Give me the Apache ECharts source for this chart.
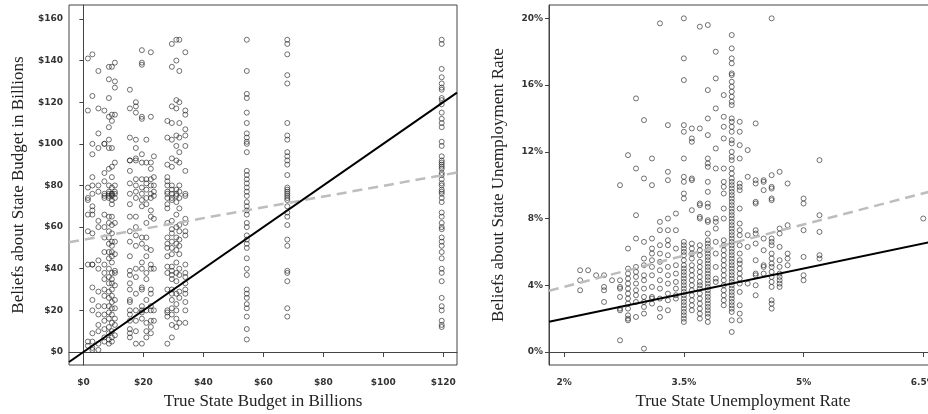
<!DOCTYPE html>
<html>
<head>
<meta charset="utf-8">
<script src="https://cdn.jsdelivr.net/npm/echarts@6/dist/echarts.min.js"></script>
<style>
html, body { margin: 0; padding: 0; background: #fff; overflow: hidden; }
#chart { width: 928px; height: 414px; }
</style>
</head>
<body>
<div id="chart"></div>
<script>
// left panel: true budget (x) and the beliefs given at each true value
const budgetX = [1.5, 3, 5, 7, 8.5, 9.5, 10.5, 15.5, 17.5, 19.5, 21, 22.5, 23.5, 28, 29.5, 31, 32, 34, 54.5, 68, 119.5]
const budgetBeliefs = [
    [141, 116, 79, 74, 73, 66, 58, 42, 5, 3],
    [143, 123, 95, 100, 84, 80, 76, 70, 68, 66, 57, 42, 42, 31, 25, 20, 9, 5, 2, 1],
    [135, 117, 105, 98, 80, 77, 63, 60, 44, 40, 29, 22, 18, 13, 10, 4, 1],
    [116, 100, 100, 86, 82, 76, 75, 74, 66, 60, 55, 48, 42, 38, 35, 30, 27, 22, 18, 15, 11, 7, 5],
    [137, 131, 122, 113, 108, 102, 98, 88, 80, 77, 76, 75, 74, 65, 62, 58, 55, 52, 48, 45, 40, 36, 33, 29, 26, 22, 19, 16, 12, 9, 6, 4],
    [137, 114, 111, 98, 89, 84, 79, 76, 76, 75, 73, 71, 65, 61, 57, 53, 51, 48, 46, 43, 38, 35, 33, 30, 27, 24, 21, 18, 14, 10, 7, 5],
    [139, 130, 127, 114, 91, 80, 77, 76, 74, 62, 53, 47, 39, 38, 32, 25, 21, 16, 13, 8],
    [126, 117, 103, 92, 92, 87, 81, 76, 71, 65, 58, 53, 46, 39, 37, 33, 30, 25, 24, 20, 18, 15, 11, 9, 7],
    [120, 118, 115, 102, 98, 93, 92, 83, 80, 77, 74, 65, 60, 56, 51, 40, 36, 28, 20, 15, 10, 4],
    [145, 139, 138, 113, 112, 95, 91, 83, 79, 76, 73, 70, 55, 52, 43, 40, 31, 30, 22, 20, 19, 16, 4],
    [102, 91, 83, 81, 78, 74, 71, 62, 55, 50, 46, 38, 35, 25, 20, 14, 10, 7],
    [144, 113, 91, 88, 83, 80, 76, 74, 68, 65, 49, 42, 40, 30, 28, 22, 20, 15, 12, 9],
    [94, 84, 80, 77, 75, 64, 40, 20, 15],
    [111, 103, 90, 84, 82, 80, 77, 76, 74, 71, 69, 62, 55, 52, 50, 46, 41, 38, 30, 20, 19, 17, 4],
    [148, 137, 118, 110, 102, 93, 89, 80, 78, 76, 74, 73, 63, 59, 57, 53, 50, 47, 41, 39, 37, 35, 30, 28, 25, 21, 18, 13, 7],
    [150, 140, 121, 117, 104, 99, 92, 78, 76, 75, 72, 66, 60, 55, 52, 49, 43, 38, 34, 28, 23, 20, 16, 12],
    [150, 135, 120, 110, 103, 96, 91, 80, 77, 74, 69, 61, 58, 54, 51, 47, 40, 37, 29, 26, 14],
    [144, 116, 114, 107, 104, 99, 87, 76, 75, 64, 62, 58, 56, 42, 38, 36, 33, 30, 28, 24, 20, 14],
    [150, 135, 124, 122, 115, 110, 105, 103, 101, 100, 96, 87, 85, 83, 81, 79, 77, 75, 72, 70, 68, 66, 62, 60, 56, 54, 52, 50, 45, 40, 37, 30, 28, 26, 23, 21, 17, 11, 6],
    [150, 148, 143, 133, 129, 110, 104, 102, 96, 94, 92, 90, 85, 79, 78, 77, 76, 75, 74, 73, 70, 67, 65, 61, 54, 51, 39, 38, 34, 21, 17],
    [150, 148, 136, 132, 129, 127, 126, 122, 121, 119, 115, 112, 110, 108, 101, 99, 94, 92, 91, 90, 89, 88, 86, 85, 83, 81, 80, 78, 77, 76, 74, 72, 67, 65, 62, 60, 59, 55, 53, 51, 48, 45, 40, 38, 34, 26, 22, 20, 15, 13, 12]
]
const budgetTicks = [0, 20, 40, 60, 80, 100, 120]
const budgetBeliefTicks = [0, 20, 40, 60, 80, 100, 120, 140, 160]
// fitted lines: end points
const budgetFitX = [-4.8, 124.6]
const budgetFitSolid = [-4.8, 124.6]
const budgetFitDashed = [52.7, 86.2]

// right panel: true unemployment rate (x) and the beliefs at each value
const rateX = [2.2, 2.3, 2.4, 2.5, 2.6, 2.7, 2.8, 2.9, 3.0, 3.1, 3.2, 3.3, 3.4, 3.5, 3.6, 3.7, 3.8, 3.9, 4.0, 4.1, 4.2, 4.3, 4.4, 4.5, 4.6, 4.7, 4.8, 5.0, 5.2, 6.5]
const rateBeliefs = [
    [4.9, 4.3, 3.7],
    [4.9],
    [4.6],
    [4.6, 3.9, 3.7, 3.0],
    [4.3],
    [10.0, 4.3, 3.9, 3.8, 3.3, 2.6, 2.5, 0.7],
    [11.8, 6.2, 5.0, 4.7, 4.4, 4.1, 3.8, 3.5, 3.2, 2.9, 2.6, 2.2, 2.0, 1.9],
    [15.2, 11.0, 8.2, 6.8, 5.1, 4.8, 4.5, 4.1, 3.7, 3.4, 3.0, 2.1],
    [13.9, 10.4, 6.6, 5.6, 5.2, 4.6, 4.3, 3.8, 3.3, 3.0, 2.7, 2.3, 0.2],
    [11.6, 10.0, 6.8, 6.2, 5.9, 5.5, 5.1, 4.6, 3.9, 3.3, 3.2, 2.9],
    [19.7, 7.8, 7.3, 6.4, 5.9, 5.4, 4.9, 4.3, 3.8, 3.2, 2.6, 2.1],
    [13.6, 10.8, 10.3, 8.0, 7.3, 6.7, 6.4, 5.8, 5.1, 4.6, 4.1, 3.5, 3.1, 2.5],
    [8.3, 7.3, 6.2, 5.2, 4.7, 4.2, 3.8, 3.4, 3.2],
    [20.0, 17.6, 16.3, 13.6, 13.2, 11.6, 10.5, 10.2, 9.5, 9.2, 6.6, 6.4, 6.2, 6.0, 5.8, 5.5, 5.2, 5.0, 4.8, 4.6, 4.4, 4.2, 4.0, 3.8, 3.6, 3.4, 3.2, 3.0, 2.8, 2.6, 2.4, 2.2, 2.0, 1.8],
    [13.4, 12.8, 12.6, 10.4, 10.3, 8.5, 6.5, 6.2, 5.9, 5.6, 5.2, 4.9, 4.6, 4.3, 4.0, 3.7, 3.4, 3.1, 2.8, 2.5],
    [19.5, 13.4, 8.9, 8.8, 8.1, 8.0, 6.4, 6.1, 5.8, 5.4, 5.1, 4.8, 4.5, 4.2, 4.0, 3.8, 3.5, 3.2, 2.9, 2.6, 2.3, 2.0],
    [19.6, 15.7, 14.0, 13.0, 11.6, 11.3, 11.1, 10.2, 9.6, 8.9, 8.7, 7.9, 7.8, 7.1, 6.7, 6.5, 6.3, 6.1, 5.9, 5.7, 5.5, 5.3, 5.1, 4.9, 4.7, 4.5, 4.3, 4.1, 3.9, 3.7, 3.5, 3.3, 3.1, 2.9, 2.7, 2.5, 2.3, 2.1, 1.8],
    [18.0, 16.4, 14.6, 12.2, 11.0, 8.0, 7.8, 7.4, 6.6, 5.9, 5.1, 4.4, 4.2],
    [15.4, 14.1, 13.5, 12.8, 11.0, 10.2, 9.9, 9.5, 8.6, 8.0, 6.7, 6.4, 6.1, 5.8, 5.5, 5.2, 4.9, 4.6, 4.3, 4.0, 3.7, 3.4, 3.1, 2.8],
    [19.0, 18.2, 17.6, 17.3, 16.7, 16.6, 16.2, 15.9, 15.6, 15.3, 15.0, 14.8, 14.0, 13.8, 13.5, 13.2, 12.7, 12.5, 12.0, 11.7, 11.5, 11.0, 10.7, 10.4, 10.2, 10.0, 9.8, 9.6, 9.4, 9.2, 9.0, 8.8, 8.6, 8.4, 8.2, 8.0, 7.8, 7.6, 7.4, 7.2, 7.0, 6.8, 6.6, 6.4, 6.2, 6.0, 5.8, 5.6, 5.4, 5.2, 5.0, 4.8, 4.6, 4.4, 4.2, 4.0, 3.8, 3.6, 3.4, 3.2, 3.0, 2.8, 2.6, 2.4, 1.9, 1.2],
    [13.8, 13.2, 12.4, 11.6, 10.1, 9.9, 9.7, 8.6, 7.7, 7.3, 7.0, 6.4, 5.9, 5.5, 5.3, 5.0, 4.7, 4.4, 4.1, 3.6, 2.8, 2.3, 1.9],
    [12.1, 10.5, 7.0, 6.3, 4.1],
    [13.7, 10.3, 10.1, 9.0, 8.9, 7.3, 7.1, 6.5, 5.5, 4.7, 4.6, 4.0, 3.4],
    [10.3, 10.2, 9.7, 6.8, 6.1, 5.2, 5.1, 4.7],
    [20.0, 10.6, 9.9, 9.8, 9.2, 9.1, 6.8, 6.6, 6.4, 5.9, 5.6, 5.3, 5.1, 4.8, 4.5, 4.2, 3.9, 3.1, 2.9, 2.6],
    [10.8, 7.4, 7.1, 6.3, 5.5, 5.1, 4.7, 4.5, 4.3, 4.1, 3.9],
    [10.1, 7.6, 5.9, 5.6, 5.2],
    [9.2, 8.9, 7.3, 5.7, 4.6, 4.3],
    [11.5, 8.2, 7.2, 5.8, 5.6],
    [8.0]
]
const rateTicks = [2, 3.5, 5, 6.5]
const rateBeliefTicks = [0, 4, 8, 12, 16, 20]
const rateFitX = [1.81, 6.95]
const rateFitSolid = [1.81, 6.95]
const rateFitDashed = [3.67, 10.07]

function toPoints(xs, ys) {
    let out = []
    xs.forEach((x, i) => {
        for (let y of ys[i]) out.push([x, y])
    })
    return out
}

const serif = '"Liberation Serif", "DejaVu Serif", serif'
const tickFont = { fontSize: 9, color: '#333', fontFamily: 'DejaVu Sans', fontWeight: 'bold' }
const axisLine = { show: true, lineStyle: { color: '#444', width: 1 } }
const axisTick = { show: true, length: 4, lineStyle: { color: '#444' } }

function xAxis(gridIndex, min, max, ticks, fmt, name, shift) {
    return {
        type: 'value', gridIndex, min, max,
        name, nameLocation: 'middle', nameGap: 28,
        nameTextStyle: { fontFamily: serif, fontSize: 17, color: '#222', padding: [0, shift, 0, 0] },
        axisLine, axisTick: Object.assign({ customValues: ticks }, axisTick, { length: 5 }),
        axisLabel: Object.assign({ customValues: ticks, formatter: fmt, margin: 13, hideOverlap: false }, tickFont),
        splitLine: { show: false }
    }
}

function yAxis(gridIndex, min, max, ticks, fmt, name, gap) {
    return {
        type: 'value', gridIndex, min, max,
        name, nameLocation: 'middle', nameGap: gap,
        nameTextStyle: { fontFamily: serif, fontSize: 17, color: '#222' },
        axisLine, axisTick: Object.assign({ customValues: ticks }, axisTick),
        axisLabel: Object.assign({ customValues: ticks, formatter: fmt, margin: 6 }, tickFont),
        splitLine: { show: false }
    }
}

const scatterStyle = {
    type: 'scatter', symbol: 'circle', symbolSize: 5,
    itemStyle: { color: 'rgba(0,0,0,0)', borderColor: '#222', borderWidth: 0.8 },
    silent: true
}

const chart = echarts.init(document.getElementById('chart'))
chart.setOption({
    animation: false,
    backgroundColor: '#fff',
    grid: [
        { left: 69, width: 388, top: 5, bottom: 49, show: true, borderColor: '#444', borderWidth: 1, outerBoundsMode: 'none', containLabel: false },
        // right panel runs past the page edge, as in the cropped original
        { left: 549, width: 410, top: 5, bottom: 49, show: true, borderColor: '#444', borderWidth: 1, outerBoundsMode: 'none', containLabel: false }
    ],
    xAxis: [
        xAxis(0, -4.8, 124.6, budgetTicks, v => '$' + v, 'True State Budget in Billions', 0),
        xAxis(1, 1.81, 6.948, rateTicks, v => v + '%', 'True State Unemployment Rate', 22)
    ],
    yAxis: [
        yAxis(0, -6.25, 166.7, budgetBeliefTicks, v => '$' + v, 'Beliefs about State Budget in Billions', 42),
        yAxis(1, -0.78, 20.8, rateBeliefTicks, v => v + '%', 'Beliefs about State Unemployment Rate', 42)
    ],
    series: [
        Object.assign({ xAxisIndex: 0, yAxisIndex: 0, data: toPoints(budgetX, budgetBeliefs) }, scatterStyle),
        Object.assign({ xAxisIndex: 1, yAxisIndex: 1, data: toPoints(rateX, rateBeliefs) }, scatterStyle),
        {
            type: 'line', xAxisIndex: 0, yAxisIndex: 0, symbol: 'none', silent: true,
            data: budgetFitX.map((x, i) => [x, budgetFitDashed[i]]),
            lineStyle: { color: '#bdbdbd', width: 2.5, type: [10, 6] }
        },
        {
            type: 'line', xAxisIndex: 0, yAxisIndex: 0, symbol: 'none', silent: true,
            data: budgetFitX.map((x, i) => [x, budgetFitSolid[i]]),
            lineStyle: { color: '#000', width: 2 }
        },
        {
            type: 'line', xAxisIndex: 1, yAxisIndex: 1, symbol: 'none', silent: true,
            data: rateFitX.map((x, i) => [x, rateFitDashed[i]]),
            lineStyle: { color: '#bdbdbd', width: 2.5, type: [10, 6] }
        },
        {
            type: 'line', xAxisIndex: 1, yAxisIndex: 1, symbol: 'none', silent: true,
            data: rateFitX.map((x, i) => [x, rateFitSolid[i]]),
            lineStyle: { color: '#000', width: 2 }
        }
    ]
})
</script>
</body>
</html>
